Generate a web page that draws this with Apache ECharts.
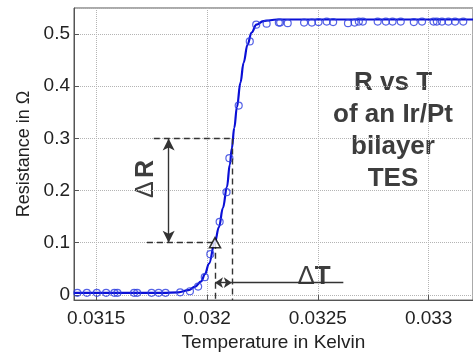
<!DOCTYPE html>
<html>
<head>
    <meta charset="utf-8">
    <title>R vs T</title>
    <script src="https://cdn.jsdelivr.net/npm/echarts@6/dist/echarts.min.js"></script>
    <style>
        html, body { margin: 0; padding: 0; background: #fff; }
    </style>
</head>
<body>
<div id="main" style="width: 473px;height:357px;"></div>
<script type="text/javascript">
    // measured points (temperature in K, resistance in Ohm)
    var measT = [0.031415, 0.031458, 0.031503, 0.031545, 0.031582, 0.031596, 0.031671, 0.031685,
        0.031750, 0.031782, 0.031813, 0.031879, 0.031923, 0.031960, 0.031990, 0.032015,
        0.032057, 0.032088, 0.032101, 0.032143, 0.032193, 0.032222, 0.032269, 0.032324,
        0.032330, 0.032364, 0.032438, 0.032473, 0.032503, 0.032540, 0.032569, 0.032636,
        0.032666, 0.032685, 0.032703, 0.032770, 0.032807, 0.032837, 0.032874, 0.032933,
        0.032970, 0.033022, 0.033037, 0.033060, 0.033089, 0.033119, 0.033156];
    var measR = [0.004, 0.004, 0.004, 0.004, 0.004, 0.004, 0.004, 0.004,
        0.004, 0.004, 0.004, 0.005, 0.007, 0.016, 0.034, 0.078,
        0.140, 0.197, 0.262, 0.363, 0.486, 0.518, 0.520, 0.522,
        0.522, 0.521, 0.522, 0.522, 0.523, 0.524, 0.523, 0.521,
        0.522, 0.524, 0.524, 0.524, 0.524, 0.524, 0.524, 0.523,
        0.524, 0.524, 0.524, 0.524, 0.524, 0.524, 0.524];

    // fitted curve
    var fitT = [0.0314, 0.0318, 0.031871, 0.031916, 0.031947, 0.031974, 0.031991, 0.032009,
        0.032035, 0.032054, 0.032072, 0.032090, 0.032103, 0.032112, 0.032123, 0.032135,
        0.032151, 0.032165, 0.032183, 0.032201, 0.032223, 0.032254, 0.032317, 0.0325, 0.0332];
    var fitR = [0.004, 0.004, 0.005, 0.009, 0.016, 0.026, 0.040, 0.060,
        0.100, 0.130, 0.167, 0.207, 0.250, 0.281, 0.320, 0.360,
        0.407, 0.445, 0.480, 0.503, 0.518, 0.525, 0.528, 0.528, 0.528];

    // transition markers: [T at R low, T at R high], [R low, R high]
    var transT = [0.032036, 0.032112];
    var transR = [0.1, 0.3];
    var deltaRx = 0.031827;        // where the delta-R arrow sits
    var dashStartT = [0.031729, 0.03176];
    var deltaTy = 0.0235;
    var deltaTend = 0.032615;

    var xTicks = [0.0315, 0.032, 0.0325, 0.033];
    var yTicks = [0, 0.1, 0.2, 0.3, 0.4, 0.5];

    var myChart = echarts.init(document.getElementById('main'));

    var fontFam = '"Liberation Sans", Arial, sans-serif';
    var gridLine = {show: true, lineStyle: {color: '#b4b4b4', type: 'dotted', width: 1}};

    var measData = measT.map(function (t, i) { return [t, measR[i]]; });
    var fitData = fitT.map(function (t, i) { return [t, fitR[i]]; });

    var dash = {color: '#333', type: [6, 4], width: 1.4};
    var solid = {color: '#333', type: 'solid', width: 1.4};

    function pickLabel(list) {
        return function (v) {
            for (var i = 0; i < list.length; i++) {
                if (Math.abs(v - list[i]) < 1e-7) return String(list[i]);
            }
            return '';
        };
    }

    option = {
        animation: false,
        grid: {
            left: 74,
            right: -5,
            top: 8,
            bottom: 46,
            show: true,
            borderColor: '#555',
            borderWidth: 1
        },
        xAxis: [{
            type: 'value',
            min: 0.0314,
            max: 0.0332,
            splitNumber: 4,
            name: 'Temperature in Kelvin',
            nameLocation: 'middle',
            nameGap: 31,
            nameTextStyle: {fontFamily: fontFam, fontSize: 19, color: '#222'},
            axisLine: {onZero: false, lineStyle: {color: '#555'}},
            axisTick: {inside: true, length: 5, lineStyle: {color: '#555'}},
            axisLabel: {
                fontFamily: fontFam, fontSize: 19, color: '#222', margin: 9,
                showMinLabel: false, showMaxLabel: false,
                formatter: pickLabel(xTicks)
            },
            splitLine: gridLine
        }, {
            type: 'value',
            position: 'top',
            min: 0.0314,
            max: 0.0332,
            splitNumber: 4,
            axisLine: {show: false},
            axisTick: {inside: true, length: 5, lineStyle: {color: '#555'}},
            axisLabel: {show: false},
            splitLine: {show: false}
        }],
        yAxis: {
            type: 'value',
            min: -0.01,
            max: 0.55,
            splitNumber: 5,
            name: 'Resistance in Ω',
            nameLocation: 'middle',
            nameGap: 29,
            nameTextStyle: {fontFamily: fontFam, fontSize: 18, color: '#222'},
            axisLine: {show: true, onZero: false, lineStyle: {color: '#555'}},
            axisTick: {show: true, inside: true, length: 5, lineStyle: {color: '#555'}},
            axisLabel: {
                fontFamily: fontFam, fontSize: 19, color: '#222', margin: 4,
                showMinLabel: false, showMaxLabel: false,
                formatter: pickLabel(yTicks)
            },
            splitLine: gridLine
        },
        series: [
            {
                name: 'annotations',
                type: 'line',
                data: [],
                silent: true,
                markLine: {
                    silent: true,
                    symbol: 'none',
                    label: {show: false},
                    animation: false,
                    data: [
                        [{coord: [dashStartT[1], transR[1]], lineStyle: dash}, {coord: [transT[1], transR[1]]}],
                        [{coord: [dashStartT[0], transR[0]], lineStyle: dash}, {coord: [transT[0], transR[0]]}],
                        [{coord: [transT[0], transR[0]], lineStyle: dash}, {coord: [transT[0], -0.01]}],
                        [{coord: [transT[1], transR[1]], lineStyle: dash}, {coord: [transT[1], -0.01]}],
                        [{coord: [deltaRx, transR[1]], lineStyle: solid, symbol: 'arrow', symbolSize: [9, 12]},
                            {coord: [deltaRx, transR[0]], symbol: 'arrow', symbolSize: [9, 12]}],
                        [{coord: [transT[0], deltaTy], lineStyle: solid, symbol: 'arrow', symbolSize: [8, 8]},
                            {coord: [transT[1], deltaTy], symbol: 'arrow', symbolSize: [8, 8]}],
                        [{coord: [transT[1], deltaTy], lineStyle: solid}, {coord: [deltaTend, deltaTy]}]
                    ]
                }
            },
            {
                name: 'fit',
                type: 'line',
                data: fitData,
                smooth: 0.4,
                smoothMonotone: 'x',
                showSymbol: false,
                z: 3,
                lineStyle: {color: '#0a0fd6', width: 2.2}
            },
            {
                name: 'measured',
                type: 'scatter',
                data: measData,
                symbol: 'circle',
                symbolSize: 7,
                z: 4,
                itemStyle: {color: 'rgba(255,255,255,0)', borderColor: '#2b3be0', borderWidth: 1.2}
            },
            {
                name: 'transition start',
                type: 'scatter',
                data: [[transT[0], transR[0]]],
                symbol: 'triangle',
                symbolSize: [11, 10],
                z: 5,
                itemStyle: {color: '#fff', borderColor: '#000', borderWidth: 1.6}
            }
        ],
        graphic: [
            {
                type: 'text',
                x: 393,
                y: 131,
                style: {
                    text: 'R vs T\nof an Ir/Pt\nbilayer\nTES',
                    font: 'bold 26px ' + fontFam,
                    fill: '#3d3d3d',
                    align: 'center',
                    verticalAlign: 'middle',
                    lineHeight: 32
                }
            },
            {
                type: 'text',
                x: 146,
                y: 179,
                rotation: Math.PI / 2,
                style: {
                    text: '{d|Δ} {r|R}',
                    align: 'center',
                    verticalAlign: 'middle',
                    rich: {
                        d: {font: 'normal 25px ' + fontFam, fill: '#3d3d3d'},
                        r: {font: 'bold 25px ' + fontFam, fill: '#3d3d3d'}
                    }
                }
            },
            {
                type: 'text',
                x: 314,
                y: 277,
                style: {
                    text: '{d|Δ}{r|T}',
                    align: 'center',
                    verticalAlign: 'middle',
                    rich: {
                        d: {font: 'normal 26px ' + fontFam, fill: '#3d3d3d'},
                        r: {font: 'bold 26px ' + fontFam, fill: '#3d3d3d'}
                    }
                }
            }
        ]
    };

    myChart.setOption(option);
</script>
</body>
</html>
